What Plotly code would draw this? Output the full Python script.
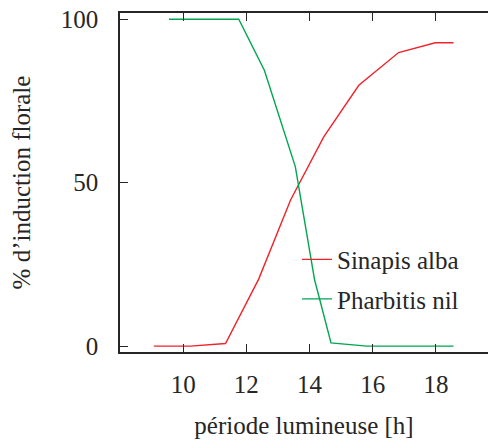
import plotly.graph_objects as go

# Data
sinapis_x = [9.07, 10.23, 11.34, 12.39, 13.40, 14.45, 15.56, 16.82, 17.98, 18.56]
sinapis_y = [0.0, 0.0, 0.8, 20.5, 44.7, 64.0, 79.8, 89.8, 92.8, 92.8]
pharbitis_x = [9.55, 11.76, 12.57, 13.55, 14.16, 14.68, 15.82, 18.56]
pharbitis_y = [100.0, 100.0, 84.4, 54.9, 20.3, 1.0, 0.0, 0.0]

x_ticks = [10, 12, 14, 16, 18]
y_ticks = [0, 50, 100]

FONT = "'Liberation Serif', 'DejaVu Serif', serif"
TXT = "#262626"
AX = "#262626"

fig = go.Figure()
fig.add_trace(go.Scatter(x=sinapis_x, y=sinapis_y, mode="lines", name="Sinapis alba",
                         line=dict(color="#f0222a", width=1.4), legendgroup="a"))
fig.add_trace(go.Scatter(x=pharbitis_x, y=pharbitis_y, mode="lines", name="Pharbitis nil",
                         line=dict(color="#00a651", width=1.4), legendgroup="b"))

fig.update_layout(
    width=488, height=441,
    margin=dict(l=120, r=0, t=13, b=89, autoexpand=False),
    paper_bgcolor="white", plot_bgcolor="white",
    font=dict(family=FONT, size=25, color=TXT),
    showlegend=True,
    legend=dict(x=0.481, y=0.215, xanchor="left", yanchor="middle",
                bgcolor="rgba(0,0,0,0)", tracegroupgap=4,
                font=dict(family=FONT, size=25, color=TXT)),
    xaxis=dict(range=[8, 19.65], tickvals=x_ticks, ticks="inside", ticklen=8,
               tickwidth=1.3, tickcolor=AX, showline=True, linecolor=AX, linewidth=1.5,
               mirror="ticks", showgrid=False, zeroline=False, automargin=False,
               ticklabelstandoff=9,
               title=dict(text="période lumineuse [h]", standoff=20,
                          font=dict(family=FONT, size=25, color=TXT)),
               tickfont=dict(family=FONT, size=25, color=TXT)),
    yaxis=dict(range=[-1.8, 101.9], tickvals=y_ticks, ticks="inside", ticklen=8,
               tickwidth=1.3, tickcolor=AX, showline=True, linecolor=AX, linewidth=1.5,
               mirror=False, showgrid=False, zeroline=False, automargin=False,
               ticklabelstandoff=15,
               title=dict(text="% d’induction florale", standoff=23,
                          font=dict(family=FONT, size=25, color=TXT)),
               tickfont=dict(family=FONT, size=25, color=TXT)),
)

fig.write_html("out.html", config={"displayModeBar": False},
               post_script="document.body.style.margin='0';document.body.style.overflow='hidden';")
